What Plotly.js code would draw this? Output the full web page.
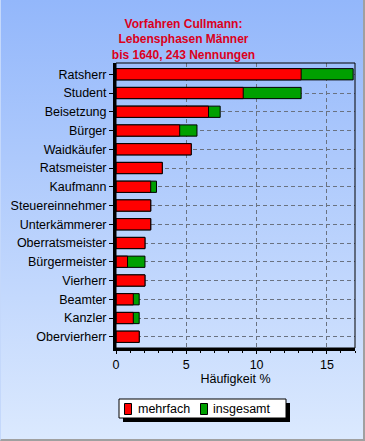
<!DOCTYPE html>
<html>
<head>
<meta charset="utf-8">
<script src="https://cdn.plot.ly/plotly-3.0.1.min.js"></script>
<style>
  html, body { margin: 0; padding: 0; }
  #wrap {
    position: relative; width: 365px; height: 441px; box-sizing: border-box;
    background: linear-gradient(to bottom, #93b7fb 0%, #dbe9fe 100%);
    border-right: 2px solid #a0a0a0; border-bottom: 2px solid #a0a0a0;
    border-left: 1px solid #c4d8fb;
  }
  #chart { position: absolute; left: 0; top: 0; width: 365px; height: 441px; }
</style>
</head>
<body>
<div id="wrap"><div id="chart"></div></div>
<script>
const categories = ['Ratsherr','Student','Beisetzung','Bürger','Waidkäufer','Ratsmeister','Kaufmann','Steuereinnehmer','Unterkämmerer','Oberratsmeister','Bürgermeister','Vierherr','Beamter','Kanzler','Obervierherr'];
const mehrfach  = [13.17, 9.05, 6.58, 4.53, 5.35, 3.29, 2.47, 2.47, 2.47, 2.06, 0.82, 2.06, 1.23, 1.23, 1.65];
const insgesamt = [16.87, 13.17, 7.41, 5.76, 5.35, 3.29, 2.88, 2.47, 2.47, 2.06, 2.06, 2.06, 1.65, 1.65, 1.65];
const seriesNames = ['mehrfach', 'insgesamt'];
const xTicks = [0, 5, 10, 15];
const titleText = 'Vorfahren Cullmann:<br>Lebensphasen Männer<br>bis 1640, 243 Nennungen';

const FONT = 'Liberation Sans, Arial, sans-serif';
const COLORS = {mehrfach: '#ff0000', insgesamt: '#00a000'};
const M = {l: 115, r: 11, t: 63, b: 93};
const W = 365, H = 441;
const PW = W - M.l - M.r, PH = H - M.t - M.b;
const px2x = p => (p - M.l) / PW;
const py2y = p => 1 - (p - M.t) / PH;

const traces = [
  {type: 'bar', orientation: 'h', name: seriesNames[1], y: categories, x: insgesamt,
   marker: {color: COLORS.insgesamt, line: {color: '#000', width: 1}}, width: 0.6, hoverinfo: 'none'},
  {type: 'bar', orientation: 'h', name: seriesNames[0], y: categories, x: mehrfach,
   marker: {color: COLORS.mehrfach, line: {color: '#000', width: 1}}, width: 0.6, hoverinfo: 'none'}
];

// Legend (drawn as a framed box with drop shadow, like the original)
const legendBox = {x0: 118, x1: 285, y0: 399, y1: 418};
const legendItems = [
  {name: seriesNames[0], sq: 123, tx: 135},
  {name: seriesNames[1], sq: 199, tx: 210}
];
const shapes = [
  {type: 'rect', xref: 'paper', yref: 'paper', x0: 0, x1: 1, y0: 0, y1: 1, line: {color: '#000', width: 1}, layer: 'above'},
  {type: 'rect', xref: 'paper', yref: 'paper', layer: 'above',
   x0: px2x(legendBox.x0 + 4), x1: px2x(legendBox.x1 + 4), y0: py2y(legendBox.y1 + 4), y1: py2y(legendBox.y0 + 4),
   fillcolor: '#000', line: {width: 0}},
  {type: 'rect', xref: 'paper', yref: 'paper', layer: 'above',
   x0: px2x(legendBox.x0), x1: px2x(legendBox.x1), y0: py2y(legendBox.y1), y1: py2y(legendBox.y0),
   fillcolor: '#fff', line: {color: '#000', width: 1}}
];
const annotations = [];
legendItems.forEach(it => {
  shapes.push({type: 'rect', xref: 'paper', yref: 'paper', layer: 'above',
    x0: px2x(it.sq + 0.5), x1: px2x(it.sq + 7.5), y0: py2y(414.5), y1: py2y(403.5),
    fillcolor: COLORS[it.name], line: {color: '#000', width: 1}});
  annotations.push({xref: 'paper', yref: 'paper', x: px2x(it.tx), y: py2y(409), xanchor: 'left', yanchor: 'middle',
    text: it.name, showarrow: false, font: {family: FONT, size: 12.5, color: '#000'}});
});

const layout = {
  width: W, height: H,
  margin: M,
  paper_bgcolor: 'rgba(0,0,0,0)', plot_bgcolor: 'rgba(0,0,0,0)',
  barmode: 'overlay',
  font: {family: FONT, size: 12.5, color: '#000'},
  title: {text: titleText, font: {family: FONT, size: 12, color: '#dc0020', weight: 'bold'},
          x: 0.5, xref: 'container', y: 1 - 27.5/441, yref: 'container', yanchor: 'middle'},
  xaxis: {range: [0, 17], tickvals: xTicks, ticktext: xTicks.map(String), ticks: 'outside', ticklen: 3, tickcolor: '#000',
          showline: true, linewidth: 3, linecolor: '#000', zeroline: false,
          showgrid: true, gridcolor: '#6a7280', griddash: '4px,3px', gridwidth: 1,
          minor: {dtick: 1, ticks: 'outside', ticklen: 2, tickcolor: '#000', showgrid: false},
          title: {text: 'Häufigkeit %', font: {family: FONT, size: 12.5}, standoff: 4},
          tickfont: {family: FONT, size: 12.5}},
  yaxis: {type: 'category', range: [14.6, -0.6], ticks: 'outside', ticklen: 4, tickcolor: '#000',
          showline: true, linewidth: 3, linecolor: '#000',
          showgrid: true, gridcolor: '#6a7280', griddash: '4px,3px', gridwidth: 1,
          tickfont: {family: FONT, size: 12.5}},
  showlegend: false,
  shapes: shapes,
  annotations: annotations
};

Plotly.newPlot('chart', traces, layout, {staticPlot: true});
</script>
</body>
</html>
